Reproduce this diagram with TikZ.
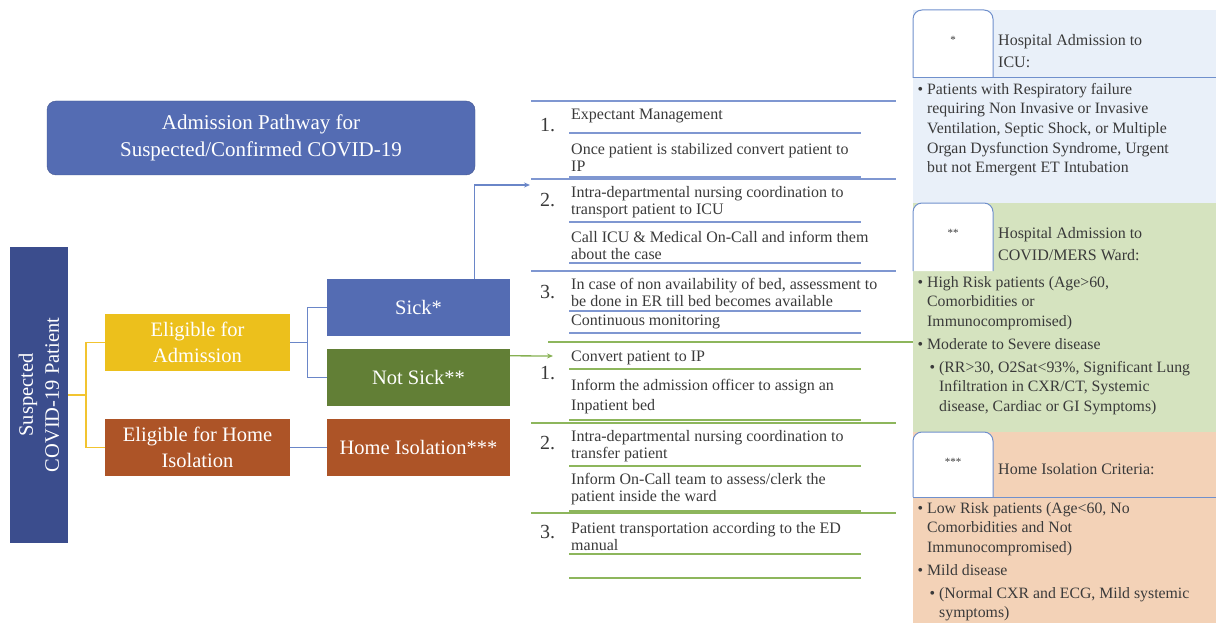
\documentclass[tikz,border=0pt]{standalone}
\usepackage{fontspec}
\setmainfont{Liberation Serif}
\usetikzlibrary{calc,arrows.meta}
\definecolor{navy}{HTML}{3B4D8D}
\definecolor{sickblue}{HTML}{546CB3}
\definecolor{gold}{HTML}{ECC01C}
\definecolor{rust}{HTML}{AD5427}
\definecolor{moss}{HTML}{627F36}
\definecolor{ylink}{HTML}{F2C430}
\definecolor{blink}{HTML}{6A86C8}
\definecolor{glink}{HTML}{86B052}
\definecolor{brule}{HTML}{7F97D1}
\definecolor{grule}{HTML}{8DB65C}
\definecolor{paleblue}{HTML}{E9F0F9}
\definecolor{palegreen}{HTML}{D5E3BF}
\definecolor{palerust}{HTML}{F3D2B7}
\definecolor{tabline}{HTML}{7090CC}
\definecolor{ink}{HTML}{3A3A3A}
\tikzset{
box/.style={rectangle,minimum width=183pt,minimum height=57pt,inner sep=2pt,text=white,align=center,font=\fontsize{20.5}{26}\selectfont},
pathway/.style={box,rounded corners=9pt,draw=sickblue!80!black,fill=sickblue,minimum width=428pt,minimum height=74pt},
yedge/.style={ylink,line width=1.5pt},
bedge/.style={blink,line width=1.3pt},
barrow/.style={bedge,-{Stealth[length=6pt,width=5pt]}},
garrow/.style={glink,line width=1.3pt,-{Stealth[length=6pt,width=5pt]}},
brl/.style={brule,line width=1.1pt},
grl/.style={grule,line width=1.1pt},
stepnum/.style={anchor=west,inner sep=0pt,text=ink,font=\fontsize{20}{22}\selectfont},
steptext/.style={anchor=west,inner sep=0pt,text=ink,align=left,font=\fontsize{16}{17}\selectfont},
tab/.style={draw=tabline,fill=white,line width=1pt,rounded corners=9pt},
tabstar/.style={inner sep=0pt,text=ink,font=\fontsize{11}{12}\selectfont},
head/.style={anchor=west,inner sep=0pt,text=ink,align=left,font=\fontsize{16}{22}\selectfont},
crit/.style={anchor=north west,inner sep=0pt,text=ink,align=left,font=\fontsize{15.8}{19.6}\selectfont},
}
\newcommand{\critem}[3]{\node[crit] (#1) at #2 {\llap{\textbullet\ }#3};}

\begin{document}
\begin{tikzpicture}[x=1pt,y=-1pt]
\useasboundingbox (0,0) rectangle (1216,623);

\node[pathway,font=\fontsize{21}{27}\selectfont] (title) at (261,138) {Admission Pathway for\\Suspected/Confirmed COVID-19};

\node[box,fill=navy,rotate=90,minimum width=296pt,minimum height=58pt] (pat) at (39,395) {Suspected\\COVID-19 Patient};
\node[box,fill=gold,minimum width=185pt] (adm) at (197.5,342.5) {Eligible for\\Admission};
\node[box,fill=rust,minimum width=185pt] (home) at (197.5,447.5) {Eligible for Home\\Isolation};
\node[box,fill=sickblue] (sick) at (418.5,307.5) {Sick*};
\node[box,fill=moss] (notsick) at (418.5,377.5) {Not Sick**};
\node[box,fill=rust] (iso) at (418.5,447.5) {Home Isolation***};

\draw[yedge] (pat.south) -- ++(18,0) coordinate (fork1) |- (adm.west);
\draw[yedge] (fork1) |- (home.west);
\draw[bedge] (adm.east) -- ++(17,0) coordinate (fork2) |- (sick.west);
\draw[bedge] (fork2) |- (notsick.west);
\draw[bedge] (home.east) -- (iso.west);

\coordinate (icu) at (530,185);
\coordinate (ward) at (553,356);
\draw[barrow] ($(sick.north east)+(-36,0)$) |- (icu);
\draw[garrow] ($(notsick.north east)+(0,7)$) -- (ward);

% sick steps
\draw[brl] (531,101) -- (896,101);
\draw[brl] (531,179) -- (896,179);
\draw[brl] (531,271) -- (896,271);
\draw[brl] (569,133) -- (861,133);
\draw[brl] (569,177) -- (861,177);
\draw[brl] (569,222) -- (861,222);
\draw[brl] (569,263) -- (861,263);
\draw[brl] (569,311) -- (861,311);
\draw[brl] (569,333) -- (861,333);
\node[stepnum] (s1) at (540,125) {1.};
\node[stepnum] (s2) at (540,200) {2.};
\node[stepnum] (s3) at (540,292) {3.};
\node[steptext] (s1a) at (571,116) {Expectant Management};
\node[steptext] (s1b) at (571,157) {Once patient is stabilized convert patient to\\IP};
\node[steptext] (s2a) at (571,202) {Intra-departmental nursing coordination to\\transport patient to ICU};
\node[steptext] (s2b) at (571,245) {Call ICU \& Medical On-Call and inform them\\about the case};
\node[steptext] (s3a) at (571,292) {In case of non availability of bed, assessment to\\be done in ER till bed becomes available};
\node[steptext] (s3b) at (571,322) {Continuous monitoring};

% not sick steps
\draw[grl] (548,342) -- (913,342);
\draw[grl] (531,423) -- (896,423);
\draw[grl] (531,513) -- (896,513);
\draw[grl] (569,369) -- (861,369);
\draw[grl] (569,420) -- (861,420);
\draw[grl] (569,466) -- (861,466);
\draw[grl] (569,511) -- (861,511);
\draw[grl] (569,554) -- (861,554);
\draw[grl] (569,578) -- (861,578);
\node[stepnum] (n1) at (540,373) {1.};
\node[stepnum] (n2) at (540,443) {2.};
\node[stepnum] (n3) at (540,532) {3.};
\node[steptext] (n1a) at (571,358) {Convert patient to IP};
\node[steptext,font=\fontsize{16}{20}\selectfont] (n1b) at (571,397) {Inform the admission officer to assign an\\Inpatient bed};
\node[steptext] (n2a) at (571,446) {Intra-departmental nursing coordination to\\transfer patient};
\node[steptext] (n2b) at (571,489) {Inform On-Call team to assess/clerk the\\patient inside the ward};
\node[steptext] (n3a) at (571,537) {Patient transportation according to the ED\\manual};

% criteria panels
\fill[paleblue] (913,10) rectangle (1216,203);
\fill[palegreen] (913,203) rectangle (1216,432);
\fill[palerust] (913,432) rectangle (1216,623);
\draw[tab] (913,78) |- (993,10) -- (993,78);
\draw[tabline,line width=1pt] (913,78) -- (1216,78);
\draw[tab] (913,271) |- (993,203) -- (993,271);
\draw[tab] (913,497) |- (993,432) -- (993,497);
\draw[tabline,line width=1pt] (913,497) -- (1216,497);
\node[tabstar] (k1) at (953,40) {*};
\node[tabstar] (k2) at (953,233) {**};
\node[tabstar] (k3) at (953,462) {***};
\node[head] (h1) at (998,51) {Hospital Admission to\\ICU:};
\node[head] (h2) at (998,244) {Hospital Admission to\\COVID/MERS Ward:};
\node[head] (h3) at (998,469) {Home Isolation Criteria:};
\critem{c1}{(927,83)}{Patients with Respiratory failure\\requiring Non Invasive or Invasive\\Ventilation, Septic Shock, or Multiple\\Organ Dysfunction Syndrome, Urgent\\but not Emergent ET Intubation}
\critem{c2}{(927,276)}{High Risk patients (Age>60,\\Comorbidities or\\Immunocompromised)}
\critem{c3}{(927,338)}{Moderate to Severe disease}
\critem{c4}{(939,361)}{(RR>30, O2Sat<93\%, Significant Lung\\Infiltration in CXR/CT, Systemic\\disease, Cardiac or GI Symptoms)}
\critem{c5}{(927,502)}{Low Risk patients (Age<60, No\\Comorbidities and Not\\Immunocompromised)}
\critem{c6}{(927,564)}{Mild disease}
\critem{c7}{(939,587)}{(Normal CXR and ECG, Mild systemic\\symptoms)}
\end{tikzpicture}
\end{document}
